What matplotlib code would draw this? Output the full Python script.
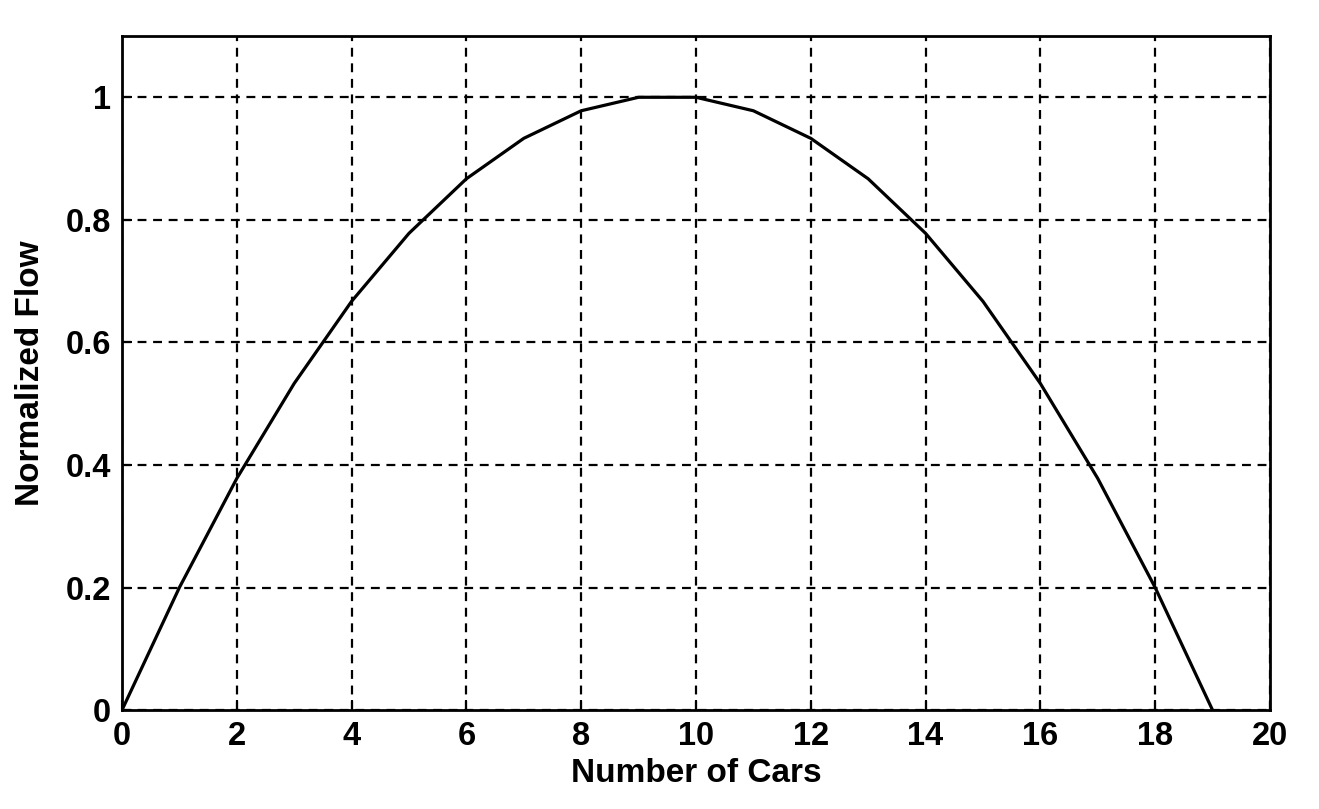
import matplotlib
matplotlib.use("Agg")
import matplotlib.pyplot as plt

# number of cars and normalized flow
cars = [0, 1, 2, 3, 4, 5, 6, 7, 8, 9, 10, 11, 12, 13, 14, 15, 16, 17, 18, 19]
flow = [0.0, 0.2, 0.378, 0.533, 0.667, 0.778, 0.867, 0.933, 0.978, 1.0,
        1.0, 0.978, 0.933, 0.867, 0.778, 0.667, 0.533, 0.378, 0.2, 0.0]

x_ticks = [0, 2, 4, 6, 8, 10, 12, 14, 16, 18, 20]
y_ticks = [0, 0.2, 0.4, 0.6, 0.8, 1]
y_labels = ["0", "0.2", "0.4", "0.6", "0.8", "1"]

plt.rcParams['font.family'] = ['Liberation Sans', 'DejaVu Sans']
plt.rcParams['font.weight'] = 'bold'

fig = plt.figure(figsize=(13.19, 8.09), dpi=100)
ax = fig.add_axes([0.0925, 0.1223, 0.8703, 0.8332])

ax.plot(cars, flow, color='black', linewidth=2.3)

ax.set_xlim(0, 20)
ax.set_ylim(0, 1.1)
ax.set_xticks(x_ticks)
ax.set_yticks(y_ticks)
ax.set_yticklabels(y_labels)

ax.grid(True, color='black', linestyle=(0, (4, 3)), linewidth=1.6)
ax.tick_params(direction='in', length=7, width=1.5, labelsize=23.5, pad=8,
               top=False, right=False)
for lbl in ax.get_xticklabels() + ax.get_yticklabels():
    lbl.set_fontweight('bold')
for sp in ax.spines.values():
    sp.set_linewidth(2)

ax.set_xlabel('Number of Cars', fontsize=24, fontweight='bold', labelpad=4)
ax.set_ylabel('Normalized Flow', fontsize=24, fontweight='bold', labelpad=14)

fig.savefig('out.png', dpi=100)
